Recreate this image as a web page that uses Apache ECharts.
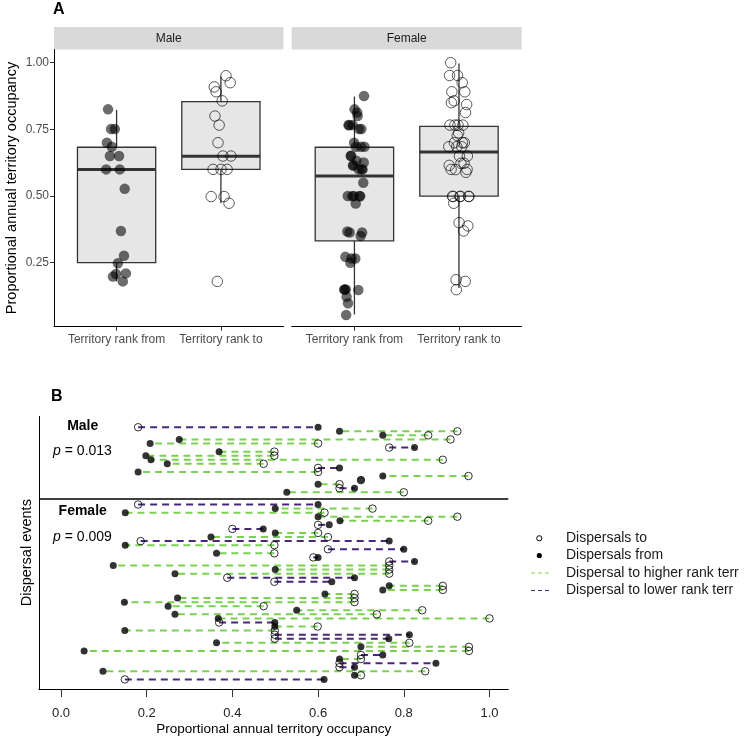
<!DOCTYPE html>
<html>
<head>
<meta charset="utf-8">
<script src="https://cdn.jsdelivr.net/npm/echarts@6/dist/echarts.min.js"></script>
<style>
  html, body { margin: 0; padding: 0; background: #fff; }
  #chart { width: 746px; height: 738px; }
</style>
</head>
<body>
<div id="chart"></div>
<script>
// panel B rows, top to bottom (from = filled dot, to = open circle)
const maleFrom = [0.60, 0.65, 0.751, 0.276, 0.208, 0.825, 0.369, 0.198, 0.21, 0.248, 0.65, 0.18, 0.751, 0.70, 0.60, 0.685, 0.527]
const maleTo = [0.18, 0.925, 0.857, 0.909, 0.60, 0.766, 0.498, 0.498, 0.891, 0.473, 0.60, 0.60, 0.951, 0.70, 0.65, 0.65, 0.80]

const femaleFrom = [0.60, 0.50, 0.15, 0.60, 0.651, 0.626, 0.472, 0.50, 0.35, 0.766, 0.15, 0.80, 0.363, 0.60,
  0.825, 0.122, 0.50, 0.266, 0.685, 0.632, 0.766, 0.751, 0.616, 0.272, 0.148, 0.25, 0.55, 0.266, 0.367,
  0.499, 0.499, 0.149, 0.813, 0.765, 0.363, 0.70, 0.054, 0.751, 0.65, 0.875, 0.685, 0.098, 0.685, 0.614]
const femaleTo = [0.18, 0.727, 0.615, 0.925, 0.857, 0.60, 0.40, 0.60, 0.623, 0.186, 0.498, 0.623, 0.498, 0.589,
  0.766, 0.766, 0.766, 0.766, 0.388, 0.498, 0.891, 0.891, 0.685, 0.685, 0.685, 0.473, 0.843, 0.737, 1.0,
  0.369, 0.599, 0.499, 0.499, 0.499, 0.813, 0.952, 0.952, 0.70, 0.70, 0.65, 0.65, 0.85, 0.70, 0.149]

// panel A boxplots: [lower whisker, Q1, median, Q3, upper whisker]
const maleFromBox = [0.18, 0.25, 0.60, 0.683, 0.823]
const maleToBox = [0.473, 0.60, 0.649, 0.854, 0.948]
const femaleFromBox = [0.056, 0.332, 0.575, 0.683, 0.873]
const femaleToBox = [0.155, 0.50, 0.665, 0.761, 0.997]

const rankLabels = ['Territory rank from', 'Territory rank to']
const occTicks = [0.25, 0.50, 0.75, 1.00]
const propTicks = [0.0, 0.2, 0.4, 0.6, 0.8, 1.0]

const FONT = 'Liberation Sans, Arial, sans-serif'
const GREEN = '#7AD151'
const PURPLE = '#482878'

// fixed horizontal spread for the jittered points
function jit(i) {
  return (((i * 0.618034) % 1) - 0.5) * 0.2
}

const femaleStart = maleFrom.length + 2
const rows = []
maleFrom.forEach((v, i) => rows.push([v, maleTo[i], i]))
femaleFrom.forEach((v, i) => rows.push([v, femaleTo[i], femaleStart + i]))

function renderBox(params, api) {
  const x = api.value(0)
  const c = api.coord([x, 0.5])[0]
  const half = api.size([0.75, 0])[0] / 2
  const y = k => api.coord([x, api.value(k)])[1]
  const yLo = y(1), yQ1 = y(2), yMed = y(3), yQ3 = y(4), yHi = y(5)
  const st = {stroke: '#333', lineWidth: 1.3}
  return {
    type: 'group',
    children: [
      {type: 'line', shape: {x1: c, y1: yLo, x2: c, y2: yQ1}, style: st},
      {type: 'line', shape: {x1: c, y1: yQ3, x2: c, y2: yHi}, style: st},
      {type: 'rect', shape: {x: c - half, y: yQ3, width: half * 2, height: yQ1 - yQ3},
        style: {fill: '#e6e6e6', stroke: '#333', lineWidth: 1.3}},
      {type: 'line', shape: {x1: c - half, y1: yMed, x2: c + half, y2: yMed},
        style: {stroke: '#333', lineWidth: 3}}
    ]
  }
}

function renderSeg(params, api) {
  const a = api.coord([api.value(1), api.value(2)])
  const b = api.coord([api.value(0), api.value(2)])
  const up = api.value(1) > api.value(0)
  return {
    type: 'line',
    shape: {x1: a[0], y1: a[1], x2: b[0], y2: b[1]},
    style: {stroke: up ? GREEN : PURPLE, lineWidth: 2, lineDash: [7, 5]}
  }
}

function rankAxis(gi) {
  return {
    gridIndex: gi, type: 'value', min: 0.4, max: 2.6,
    splitLine: {show: false},
    axisLine: {show: true, onZero: false, lineStyle: {color: '#000', width: 1}},
    axisTick: {show: true, customValues: [1, 2], length: 4, lineStyle: {color: '#333'}},
    axisLabel: {customValues: [1, 2], formatter: v => rankLabels[Math.round(v) - 1],
      margin: 7, fontSize: 12, color: '#4d4d4d', fontFamily: FONT}
  }
}

const occMin = 0.0101, occMax = 1.0495

const option = {
  animation: false,
  backgroundColor: '#fff',
  grid: [
    {left: 54, top: 49.5, width: 229.5, height: 277.2},
    {left: 291.7, top: 49.5, width: 230, height: 277.2},
    {left: 39, top: 416.5, width: 469.3, height: 272.5}
  ],
  xAxis: [
    rankAxis(0),
    rankAxis(1),
    {
      gridIndex: 2, type: 'value', min: -0.0513, max: 1.0439, position: 'bottom',
      splitLine: {show: false},
      axisLine: {show: true, onZero: false, lineStyle: {color: '#000', width: 1}},
      axisTick: {show: true, customValues: propTicks, length: 8, lineStyle: {color: '#333'}},
      axisLabel: {customValues: propTicks, formatter: v => v.toFixed(1),
        margin: 18, fontSize: 13, color: '#222', fontFamily: FONT}
    }
  ],
  yAxis: [
    {
      gridIndex: 0, type: 'value', min: occMin, max: occMax,
      splitLine: {show: false},
      axisLine: {show: true, onZero: false, lineStyle: {color: '#000', width: 1}},
      axisTick: {show: true, customValues: occTicks, length: 4, lineStyle: {color: '#333'}},
      axisLabel: {customValues: occTicks, formatter: v => v.toFixed(2),
        margin: 5, fontSize: 12, color: '#4d4d4d', fontFamily: FONT}
    },
    {gridIndex: 1, type: 'value', min: occMin, max: occMax, show: false},
    {
      gridIndex: 2, type: 'value', min: -2.64, max: 64.36, inverse: true, position: 'left',
      splitLine: {show: false},
      axisLine: {show: true, onZero: false, lineStyle: {color: '#000', width: 1}},
      axisTick: {show: false},
      axisLabel: {show: false}
    }
  ],
  series: [
    {type: 'custom', xAxisIndex: 0, yAxisIndex: 0, renderItem: renderBox,
      encode: {x: 0, y: [1, 2, 3, 4, 5]},
      data: [[1].concat(maleFromBox), [2].concat(maleToBox)]},
    {type: 'custom', xAxisIndex: 1, yAxisIndex: 1, renderItem: renderBox,
      encode: {x: 0, y: [1, 2, 3, 4, 5]},
      data: [[1].concat(femaleFromBox), [2].concat(femaleToBox)]},
    {type: 'scatter', xAxisIndex: 0, yAxisIndex: 0, symbolSize: 10.5,
      itemStyle: {color: 'rgba(0,0,0,0.72)'},
      data: maleFrom.map((v, i) => [1 + jit(i), v])},
    {type: 'scatter', xAxisIndex: 0, yAxisIndex: 0, symbolSize: 10.5,
      itemStyle: {color: 'rgba(0,0,0,0)', borderColor: 'rgba(0,0,0,0.8)', borderWidth: 1},
      data: maleTo.map((v, i) => [2 + jit(i + 7), v])},
    {type: 'scatter', xAxisIndex: 1, yAxisIndex: 1, symbolSize: 10.5,
      itemStyle: {color: 'rgba(0,0,0,0.72)'},
      data: femaleFrom.map((v, i) => [1 + jit(i + 3), v])},
    {type: 'scatter', xAxisIndex: 1, yAxisIndex: 1, symbolSize: 10.5,
      itemStyle: {color: 'rgba(0,0,0,0)', borderColor: 'rgba(0,0,0,0.8)', borderWidth: 1},
      data: femaleTo.map((v, i) => [2 + jit(i + 11), v])},
    {type: 'custom', xAxisIndex: 2, yAxisIndex: 2, renderItem: renderSeg,
      encode: {x: [0, 1], y: 2}, data: rows},
    {type: 'scatter', xAxisIndex: 2, yAxisIndex: 2, symbolSize: 7.5,
      itemStyle: {color: 'rgba(0,0,0,0)', borderColor: '#000', borderWidth: 1},
      data: rows.map(r => [r[1], r[2]]),
      markLine: {silent: true, symbol: 'none', label: {show: false},
        lineStyle: {color: '#000', width: 1.5, type: 'solid'},
        data: [{yAxis: femaleStart - 1.5}]}},
    {type: 'scatter', xAxisIndex: 2, yAxisIndex: 2, symbolSize: 7,
      itemStyle: {color: '#000'},
      data: rows.map(r => [r[0], r[2]])}
  ],
  graphic: [
    {type: 'text', left: 53, top: 2, style: {text: 'A', font: 'bold 16px ' + FONT, fill: '#000'}},
    {type: 'rect', shape: {x: 54, y: 27, width: 229.5, height: 22.5}, style: {fill: '#d9d9d9'}},
    {type: 'rect', shape: {x: 291.7, y: 27, width: 230, height: 22.5}, style: {fill: '#d9d9d9'}},
    {type: 'text', x: 168.7, y: 38.5, style: {text: 'Male', font: '12px ' + FONT, fill: '#1a1a1a',
      textAlign: 'center', textVerticalAlign: 'middle'}},
    {type: 'text', x: 406.7, y: 38.5, style: {text: 'Female', font: '12px ' + FONT, fill: '#1a1a1a',
      textAlign: 'center', textVerticalAlign: 'middle'}},
    {type: 'text', x: 12, y: 188, rotation: Math.PI / 2,
      style: {text: 'Proportional annual territory occupancy', font: '14.5px ' + FONT, fill: '#000',
        textAlign: 'center', textVerticalAlign: 'middle'}},

    {type: 'text', left: 51, top: 389, style: {text: 'B', font: 'bold 16px ' + FONT, fill: '#000'}},
    {type: 'text', x: 82.7, y: 426, style: {text: 'Male', font: 'bold 14px ' + FONT, fill: '#000',
      textAlign: 'center', textVerticalAlign: 'middle'}},
    {type: 'text', x: 82.5, y: 451, style: {text: '{i|p} = 0.013', font: '14px ' + FONT, fill: '#000',
      textAlign: 'center', textVerticalAlign: 'middle',
      rich: {i: {fontStyle: 'italic', fontSize: 14, fontFamily: FONT}}}},
    {type: 'text', x: 82.7, y: 511, style: {text: 'Female', font: 'bold 14px ' + FONT, fill: '#000',
      textAlign: 'center', textVerticalAlign: 'middle'}},
    {type: 'text', x: 82.5, y: 537, style: {text: '{i|p} = 0.009', font: '14px ' + FONT, fill: '#000',
      textAlign: 'center', textVerticalAlign: 'middle',
      rich: {i: {fontStyle: 'italic', fontSize: 14, fontFamily: FONT}}}},
    {type: 'text', x: 26.5, y: 552.7, rotation: Math.PI / 2,
      style: {text: 'Dispersal events', font: '14.5px ' + FONT, fill: '#000',
        textAlign: 'center', textVerticalAlign: 'middle'}},
    {type: 'text', x: 273.7, y: 729, style: {text: 'Proportional annual territory occupancy',
      font: '13.5px ' + FONT, fill: '#000', textAlign: 'center', textVerticalAlign: 'middle'}},

    // legend
    {type: 'circle', shape: {cx: 539.3, cy: 538.3, r: 2.6}, style: {fill: 'none', stroke: '#000', lineWidth: 1}},
    {type: 'circle', shape: {cx: 539.3, cy: 555.5, r: 2.6}, style: {fill: '#000'}},
    {type: 'line', shape: {x1: 531, y1: 573, x2: 549.5, y2: 573}, style: {stroke: GREEN, lineWidth: 1, lineDash: [4, 3]}},
    {type: 'line', shape: {x1: 531, y1: 590.5, x2: 549.5, y2: 590.5}, style: {stroke: PURPLE, lineWidth: 1, lineDash: [4, 3]}},
    {type: 'text', x: 566, y: 538, style: {text: 'Dispersals to', font: '14px ' + FONT, fill: '#1a1a1a', textVerticalAlign: 'middle'}},
    {type: 'text', x: 566, y: 555.5, style: {text: 'Dispersals from', font: '14px ' + FONT, fill: '#1a1a1a', textVerticalAlign: 'middle'}},
    {type: 'text', x: 566, y: 573, style: {text: 'Dispersal to higher rank terr', font: '14px ' + FONT, fill: '#1a1a1a', textVerticalAlign: 'middle'}},
    {type: 'text', x: 566, y: 590.5, style: {text: 'Dispersal to lower rank terr', font: '14px ' + FONT, fill: '#1a1a1a', textVerticalAlign: 'middle'}}
  ]
}

const chart = echarts.init(document.getElementById('chart'))
chart.setOption(option)
</script>
</body>
</html>
